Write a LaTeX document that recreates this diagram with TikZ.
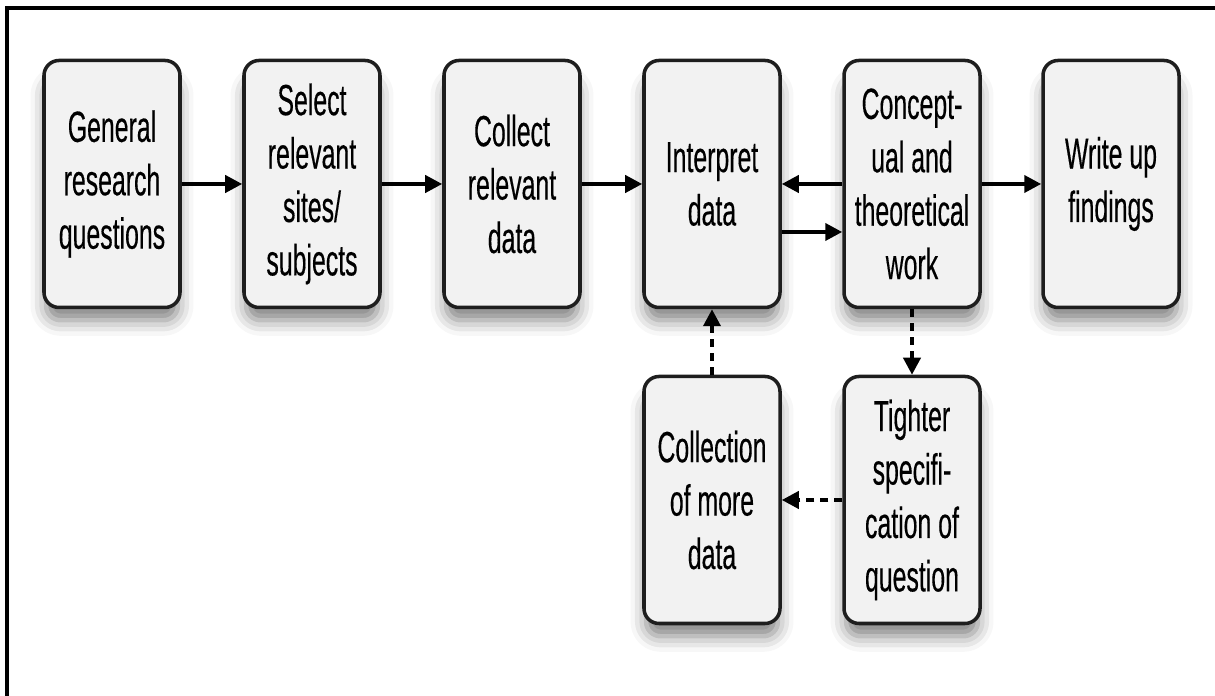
\documentclass[tikz,border=0pt]{standalone}
\usepackage{fontspec}
\setmainfont{Liberation Sans}[FakeStretch=0.57,FakeBold=0.3]
\usepackage{tikz}
\usetikzlibrary{arrows.meta,shadows.blur}

\definecolor{boxfill}{RGB}{242,242,242}
\definecolor{boxline}{RGB}{30,30,30}

\begin{document}
\begin{tikzpicture}[
    stage/.style={draw=boxline,line width=1pt,fill=boxfill,rounded corners=0.15cm,
        minimum width=1.36cm,minimum height=2.47cm,inner sep=0pt,align=center,
        font=\fontsize{12.4pt}{15.2pt}\selectfont,
        blur shadow={shadow xshift=0pt,shadow yshift=-0.17cm,shadow scale=0.97,
            shadow blur radius=0.16cm,shadow opacity=50}},
    flow/.style={line width=1.1pt,-{Triangle[length=0.17cm,width=0.17cm]}},
    loop/.style={flow,dash pattern=on 0.08cm off 0.06cm}
  ]
    \useasboundingbox (0,0) rectangle (12.15,6.96);
    \draw[line width=1.2pt] (0.07,0) -- (0.07,6.88) -- (12.15,6.88);

    \node[stage] (gen) at (1.12,5.12) {General\\research\\questions};
    \node[stage] (sel) at (3.12,5.12) {Select\\relevant\\sites/\\subjects};
    \node[stage] (col) at (5.12,5.12) {Collect\\relevant\\data};
    \node[stage] (int) at (7.12,5.12) {Interpret\\data};
    \node[stage] (con) at (9.12,5.12) {Concept-\\ual and\\theoretical\\work};
    \node[stage] (wri) at (11.11,5.12) {Write up\\findings};
    \node[stage] (mor) at (7.12,1.96) {Collection\\of more\\data};
    \node[stage] (tig) at (9.12,1.96) {Tighter\\specifi-\\cation of\\question};

    \draw[flow] (gen) -- (sel);
    \draw[flow] (sel) -- (col);
    \draw[flow] (col) -- (int);
    \draw[flow] (con.west) -- (int.east);
    \draw[flow] ([yshift=-0.48cm]int.east) -- ([yshift=-0.48cm]con.west);
    \draw[flow] (con) -- (wri);

    \draw[loop] (con.south) -- (tig.north);
    \draw[loop] (tig.west) -- (mor.east);
    \draw[loop] (mor.north) -- (int.south);

  \end{tikzpicture}
\end{document}
